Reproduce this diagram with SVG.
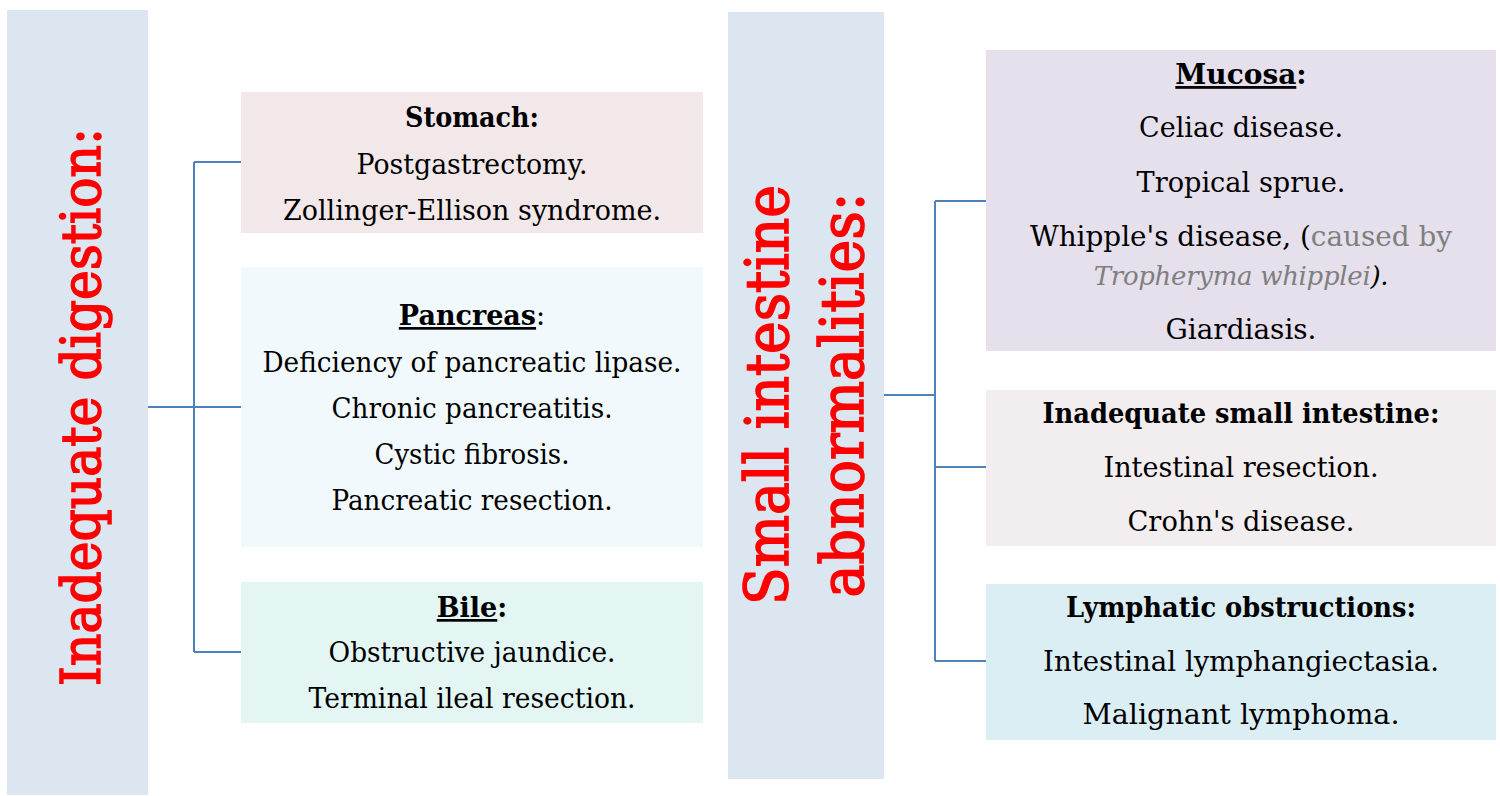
<svg xmlns="http://www.w3.org/2000/svg" width="1500" height="796" viewBox="0 0 1500 796">
<style>
.bar{fill:#DCE6F1}
.title{font-family:"DejaVu Serif","Liberation Serif",serif;fill:#FF0000;stroke:#FF0000;stroke-width:1.6;text-anchor:middle}
.t{font-family:"DejaVu Serif","Liberation Serif",serif;fill:#000;text-anchor:middle}
.l{font-size:27px}
.r{font-size:28px}
.b{font-weight:bold}
.u{text-decoration:underline}
.g{fill:#7F7F7F}
.conn{stroke:#4F81BD;stroke-width:2;fill:none}
</style>
<rect width="1500" height="796" fill="#FFFFFF"/>

<g id="inadequate-digestion">
<rect class="bar" x="7" y="10" width="141" height="785"/>
<text class="title" font-size="55" transform="translate(100,407) rotate(-90)" textLength="558" lengthAdjust="spacingAndGlyphs">Inadequate digestion:</text>
</g>

<g id="small-intestine">
<rect class="bar" x="728" y="12" width="156" height="767"/>
<text class="title" font-size="59" transform="translate(788,395) rotate(-90)" textLength="420" lengthAdjust="spacingAndGlyphs">Small intestine</text>
<text class="title" font-size="59" transform="translate(863,395) rotate(-90)" textLength="405" lengthAdjust="spacingAndGlyphs">abnormalities:</text>
</g>

<g id="connectors">
<path class="conn" d="M148,407 H194 M194,162 V652 M194,162 H241 M194,407 H241 M194,652 H241"/>
<path class="conn" d="M884,395 H935 M935,201 V661 M935,201 H986 M935,467 H986 M935,661 H986"/>
</g>

<g id="stomach">
<rect x="241" y="92" width="462" height="141" fill="#F2E8EA"/>
<text class="t l b" x="472" y="127" textLength="134" lengthAdjust="spacingAndGlyphs">Stomach:</text>
<text class="t l" x="472" y="174" textLength="231" lengthAdjust="spacingAndGlyphs">Postgastrectomy.</text>
<text class="t l" x="472" y="220" textLength="378" lengthAdjust="spacingAndGlyphs">Zollinger-Ellison syndrome.</text>
</g>

<g id="pancreas">
<rect x="241" y="267" width="462" height="280" fill="#F1F9FC"/>
<text class="t l" x="472" y="325"><tspan class="b u">Pancreas</tspan>:</text>
<text class="t l" x="472" y="372" textLength="419" lengthAdjust="spacingAndGlyphs">Deficiency of pancreatic lipase.</text>
<text class="t l" x="472" y="418" textLength="281" lengthAdjust="spacingAndGlyphs">Chronic pancreatitis.</text>
<text class="t l" x="472" y="464" textLength="195" lengthAdjust="spacingAndGlyphs">Cystic fibrosis.</text>
<text class="t l" x="472" y="510" textLength="281" lengthAdjust="spacingAndGlyphs">Pancreatic resection.</text>
</g>

<g id="bile">
<rect x="241" y="582" width="462" height="141" fill="#E3F6F4"/>
<text class="t l b" x="472" y="617"><tspan class="u">Bile</tspan>:</text>
<text class="t l" x="472" y="662" textLength="287" lengthAdjust="spacingAndGlyphs">Obstructive jaundice.</text>
<text class="t l" x="472" y="708" textLength="327" lengthAdjust="spacingAndGlyphs">Terminal ileal resection.</text>
</g>

<g id="mucosa">
<rect x="986" y="50" width="510" height="301" fill="#E5E0EC"/>
<text class="t r b" x="1241" y="84"><tspan class="u">Mucosa</tspan>:</text>
<text class="t r" x="1241" y="137" textLength="204" lengthAdjust="spacingAndGlyphs">Celiac disease.</text>
<text class="t r" x="1241" y="192" textLength="209" lengthAdjust="spacingAndGlyphs">Tropical sprue.</text>
<text class="t r" x="1241" y="246" textLength="422" lengthAdjust="spacingAndGlyphs">Whipple's disease, (<tspan class="g">caused by</tspan></text>
<text class="t" x="1241" y="285" font-size="26" letter-spacing="-0.3"><tspan class="g" font-style="italic">Tropheryma whipplei</tspan><tspan font-style="italic">).</tspan></text>
<text class="t r" x="1241" y="339" textLength="151" lengthAdjust="spacingAndGlyphs">Giardiasis.</text>
</g>

<g id="inadequate-small-intestine">
<rect x="986" y="390" width="510" height="156" fill="#F2EDEE"/>
<text class="t r b" x="1241" y="423" textLength="397" lengthAdjust="spacingAndGlyphs">Inadequate small intestine:</text>
<text class="t r" x="1241" y="477" textLength="275" lengthAdjust="spacingAndGlyphs">Intestinal resection.</text>
<text class="t r" x="1241" y="531" textLength="227" lengthAdjust="spacingAndGlyphs">Crohn's disease.</text>
</g>

<g id="lymphatic-obstructions">
<rect x="986" y="584" width="510" height="156" fill="#DBEEF4"/>
<text class="t r b" x="1241" y="617" textLength="350" lengthAdjust="spacingAndGlyphs">Lymphatic obstructions:</text>
<text class="t r" x="1241" y="671" textLength="396" lengthAdjust="spacingAndGlyphs">Intestinal lymphangiectasia.</text>
<text class="t r" x="1241" y="724" textLength="317" lengthAdjust="spacingAndGlyphs">Malignant lymphoma.</text>
</g>
</svg>
